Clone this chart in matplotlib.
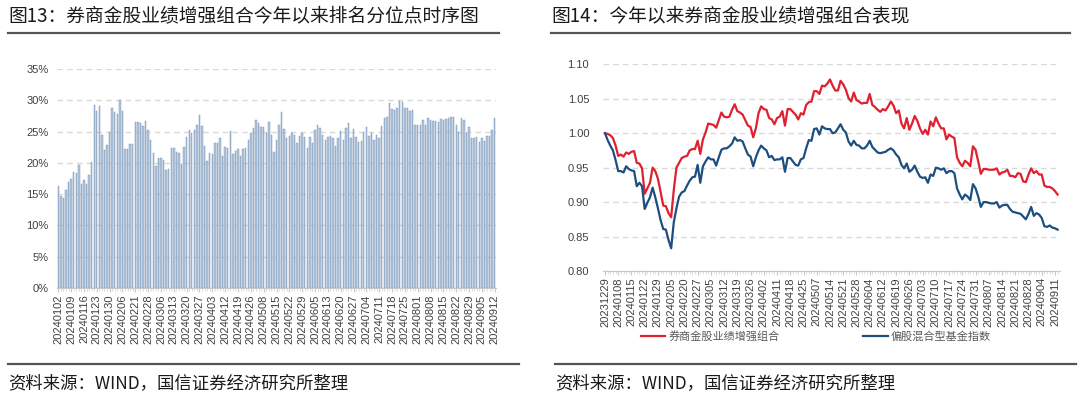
import matplotlib
matplotlib.use("Agg")
import matplotlib.pyplot as plt
from matplotlib.lines import Line2D
from matplotlib.ticker import FuncFormatter, MultipleLocator

CJK = ['Noto Sans CJK SC', 'DejaVu Sans']
NUM = ['Liberation Sans', 'DejaVu Sans']

# ---- 图13 数据：排名分位点（%），20240102-20240912 每个交易日 ----
rank_pct = [
    16.3, 14.7, 14.4, 15.7, 16.9, 17.5, 18.5, 18.4, 19.7, 16.7,
    17.3, 16.6, 18.0, 20.1, 29.2, 28.3, 29.1, 24.5, 22.1, 22.8,
    24.9, 28.8, 28.2, 27.8, 30.0, 28.3, 22.2, 22.2, 23.0, 23.0,
    26.6, 26.6, 26.3, 25.9, 26.7, 25.2, 23.6, 21.5, 19.5, 20.8,
    20.8, 20.4, 18.8, 19.0, 22.3, 22.3, 21.8, 21.5, 19.8, 22.6,
    24.1, 25.2, 24.8, 25.3, 26.1, 27.6, 25.9, 22.7, 20.3, 21.6,
    21.4, 23.2, 23.1, 24.0, 21.1, 22.5, 22.4, 25.1, 21.4, 21.9,
    22.2, 21.1, 22.2, 22.3, 23.6, 24.8, 25.5, 26.8, 26.3, 25.7,
    25.7, 24.7, 26.5, 24.4, 21.7, 23.7, 26.0, 28.2, 25.4, 24.0,
    24.3, 24.8, 24.5, 23.2, 24.3, 24.8, 24.2, 22.4, 24.1, 23.2,
    25.2, 26.0, 25.6, 24.4, 23.6, 24.1, 24.3, 23.9, 22.7, 23.9,
    25.1, 23.6, 25.6, 26.4, 24.0, 25.4, 24.1, 23.3, 23.5, 24.9,
    25.7, 24.3, 24.7, 23.6, 24.4, 24.0, 25.9, 27.2, 27.4, 29.6,
    28.6, 28.5, 28.7, 29.9, 29.8, 28.7, 28.7, 28.3, 28.5, 26.1,
    26.1, 26.1, 26.8, 26.1, 27.1, 26.9, 26.7, 26.7, 26.5, 27.0,
    26.9, 27.0, 27.2, 27.3, 27.3, 26.1, 25.0, 27.1, 26.9, 24.8,
    25.8, 24.0, 24.0, 24.1, 23.3, 23.9, 23.5, 24.3, 24.3, 25.2,
    27.2,
]
rank_ticks = [
    "20240102", "20240109", "20240116", "20240123", "20240130", "20240206",
    "20240221", "20240228", "20240306", "20240313", "20240320", "20240327",
    "20240403", "20240412", "20240419", "20240426", "20240508", "20240515",
    "20240522", "20240529", "20240605", "20240613", "20240620", "20240627",
    "20240704", "20240711", "20240718", "20240725", "20240801", "20240808",
    "20240815", "20240822", "20240829", "20240905", "20240912",
]

# ---- 图14 数据：净值，20231229-20240912 ----
portfolio = [
    1.000, 0.999, 0.997, 0.993, 0.982, 0.967, 0.969, 0.966, 0.972, 0.970,
    0.973, 0.974, 0.957, 0.956, 0.949, 0.912, 0.920, 0.928, 0.950, 0.945,
    0.934, 0.915, 0.895, 0.894, 0.884, 0.878, 0.918, 0.950, 0.957, 0.964,
    0.966, 0.967, 0.975, 0.977, 0.977, 0.989, 0.970, 0.991, 1.001, 1.014,
    1.013, 1.012, 1.008, 1.019, 1.030, 1.024, 1.023, 1.024, 1.034, 1.042,
    1.032, 1.030, 1.027, 1.019, 1.011, 1.009, 0.994, 1.007, 1.029, 1.039,
    1.035, 1.034, 1.022, 1.020, 1.013, 1.022, 1.024, 1.032, 1.011, 1.035,
    1.035, 1.031, 1.027, 1.020, 1.029, 1.027, 1.041, 1.045, 1.046, 1.061,
    1.061, 1.057, 1.069, 1.068, 1.072, 1.078, 1.069, 1.062, 1.062, 1.076,
    1.071, 1.063, 1.051, 1.046, 1.059, 1.048, 1.046, 1.043, 1.044, 1.044,
    1.057, 1.041, 1.038, 1.034, 1.031, 1.035, 1.033, 1.039, 1.046, 1.040,
    1.029, 1.033, 1.014, 1.007, 1.022, 1.005, 1.014, 1.025, 1.018, 1.007,
    0.999, 1.005, 0.998, 1.017, 1.010, 1.023, 1.014, 1.007, 1.007, 0.991,
    0.998, 0.995, 0.993, 0.965, 0.957, 0.952, 0.960, 0.957, 0.952, 0.981,
    0.976, 0.959, 0.941, 0.948, 0.948, 0.947, 0.947, 0.947, 0.949, 0.940,
    0.943, 0.944, 0.947, 0.938, 0.938, 0.936, 0.942, 0.941, 0.930, 0.929,
    0.940, 0.949, 0.942, 0.945, 0.940, 0.940, 0.924, 0.922, 0.922, 0.920,
    0.916, 0.911,
]
fund_index = [
    1.000, 0.990, 0.982, 0.975, 0.961, 0.945, 0.945, 0.943, 0.952, 0.948,
    0.946, 0.945, 0.923, 0.928, 0.923, 0.890, 0.899, 0.907, 0.921, 0.907,
    0.891, 0.874, 0.861, 0.860, 0.845, 0.833, 0.871, 0.891, 0.908, 0.914,
    0.916, 0.924, 0.931, 0.936, 0.937, 0.954, 0.928, 0.952, 0.959, 0.965,
    0.962, 0.962, 0.953, 0.965, 0.976, 0.978, 0.978, 0.981, 0.985, 0.994,
    0.989, 0.990, 0.988, 0.978, 0.969, 0.966, 0.952, 0.965, 0.975, 0.982,
    0.978, 0.975, 0.965, 0.967, 0.961, 0.962, 0.962, 0.965, 0.944, 0.964,
    0.964, 0.959, 0.954, 0.953, 0.962, 0.964, 0.978, 0.990, 0.989, 1.006,
    1.007, 0.998, 1.010, 1.007, 1.006, 1.006, 1.000, 1.001, 1.007, 1.013,
    1.005, 1.001, 0.988, 0.982, 0.989, 0.983, 0.982, 0.978, 0.978, 0.982,
    0.989, 0.980, 0.976, 0.972, 0.971, 0.972, 0.973, 0.976, 0.978, 0.975,
    0.969, 0.965, 0.954, 0.949, 0.956, 0.944, 0.947, 0.953, 0.944, 0.937,
    0.935, 0.936, 0.928, 0.940, 0.938, 0.950, 0.949, 0.947, 0.949, 0.942,
    0.945, 0.945, 0.942, 0.920, 0.911, 0.904, 0.911, 0.908, 0.903, 0.926,
    0.920, 0.908, 0.893, 0.900, 0.900, 0.899, 0.898, 0.898, 0.900, 0.892,
    0.895, 0.896, 0.896, 0.890, 0.886, 0.885, 0.884, 0.883, 0.879, 0.875,
    0.883, 0.893, 0.880, 0.884, 0.882, 0.877, 0.865, 0.864, 0.866, 0.863,
    0.862, 0.860,
]
perf_ticks = [
    "20231229", "20240108", "20240115", "20240122", "20240129", "20240205",
    "20240220", "20240227", "20240305", "20240312", "20240319", "20240326",
    "20240402", "20240411", "20240418", "20240425", "20240507", "20240514",
    "20240521", "20240528", "20240604", "20240612", "20240619", "20240626",
    "20240703", "20240710", "20240717", "20240724", "20240731", "20240807",
    "20240814", "20240821", "20240828", "20240904", "20240911",
]
series_names = ["券商金股业绩增强组合", "偏股混合型基金指数"]

W, H = 1080, 404
fig = plt.figure(figsize=(W / 100, H / 100), dpi=100)
tick_col = '#404040'
grid_col = '#d9d9d9'


def px(x0, y0, x1, y1):
    # 像素框 -> 图坐标
    return [x0 / W, 1 - y1 / H, (x1 - x0) / W, (y1 - y0) / H]


def style_axis(ax, ticks, step):
    for s in ['top', 'right', 'left']:
        ax.spines[s].set_visible(False)
    ax.spines['bottom'].set_color('#c8c8c8')
    ax.grid(axis='y', color=grid_col, linestyle=(0, (4, 3)), linewidth=1)
    ax.set_axisbelow(True)
    ax.set_xticks(range(0, step * len(ticks), step))
    ax.set_xticklabels(ticks, rotation=90, family=NUM, fontsize=8, color=tick_col)
    ax.xaxis.set_minor_locator(MultipleLocator(1))
    ax.tick_params(axis='x', which='major', length=3, color='#c8c8c8', pad=1.5)
    ax.tick_params(axis='x', which='minor', length=2.5, color='#d8d8d8')
    ax.tick_params(axis='y', length=0, labelcolor=tick_col)
    for lab in ax.get_yticklabels():
        lab.set_family(NUM)
        lab.set_fontsize(8)


# ---------------- 图13 ----------------
ax1 = fig.add_axes(px(57, 69, 496, 288))
ax1.bar(range(len(rank_pct)), rank_pct, width=0.55, color='#b6c8db',
        edgecolor='#6e8fb2', linewidth=0.3)
ax1.set_xlim(-0.5, len(rank_pct) - 0.5)
ax1.set_ylim(0, 35)
ax1.set_yticks(range(0, 36, 5))
ax1.yaxis.set_major_formatter(FuncFormatter(lambda v, p: f"{v:.0f}%"))
ax1.tick_params(axis='y', pad=6)
style_axis(ax1, rank_ticks, 5)

# ---------------- 图14 ----------------
ax2 = fig.add_axes(px(603, 64.3, 1060, 271))
xs = range(len(portfolio))
ax2.plot(xs, portfolio, color='#e0202e', linewidth=1.6, label=series_names[0])
ax2.plot(xs, fund_index, color='#1c4f80', linewidth=1.6, label=series_names[1])
ax2.set_xlim(-0.75, len(portfolio) - 0.1)
ax2.set_ylim(0.80, 1.10)
ax2.set_yticks([0.80, 0.85, 0.90, 0.95, 1.00, 1.05, 1.10])
ax2.yaxis.set_major_formatter(FuncFormatter(lambda v, p: f"{v:.2f}"))
ax2.tick_params(axis='y', pad=10)
style_axis(ax2, perf_ticks, 5)
leg = ax2.legend(loc='center', bbox_to_anchor=(816 / W, 1 - 336 / H),
                 bbox_transform=fig.transFigure, ncol=2, frameon=False,
                 prop={'family': CJK, 'size': 8}, handlelength=2.2,
                 handletextpad=0.3, columnspacing=7.5, borderpad=0.1)
for t in leg.get_texts():
    t.set_color('#595959')

# ---------------- 标题、分隔线、来源 ----------------
fig.text(8 / W, 1 - 17 / H, "图13：券商金股业绩增强组合今年以来排名分位点时序图",
         family=CJK, fontsize=13.5, color='#1a1a1a', va='center', ha='left')
fig.text(551 / W, 1 - 17 / H, "图14：今年以来券商金股业绩增强组合表现",
         family=CJK, fontsize=13.5, color='#1a1a1a', va='center', ha='left')
for x0, x1, y in [(8, 499, 33), (551, 1070, 33), (8, 519, 364), (555, 1076, 364)]:
    fig.add_artist(Line2D([x0 / W, x1 / W], [1 - y / H, 1 - y / H],
                          color='#555555', linewidth=1.6))
for x0 in (8, 555):
    fig.text(x0 / W, 1 - 383 / H, "资料来源：WIND，国信证券经济研究所整理",
             family=CJK, fontsize=12.5, color='#1a1a1a', va='center', ha='left')

fig.savefig("out.png", dpi=100)
